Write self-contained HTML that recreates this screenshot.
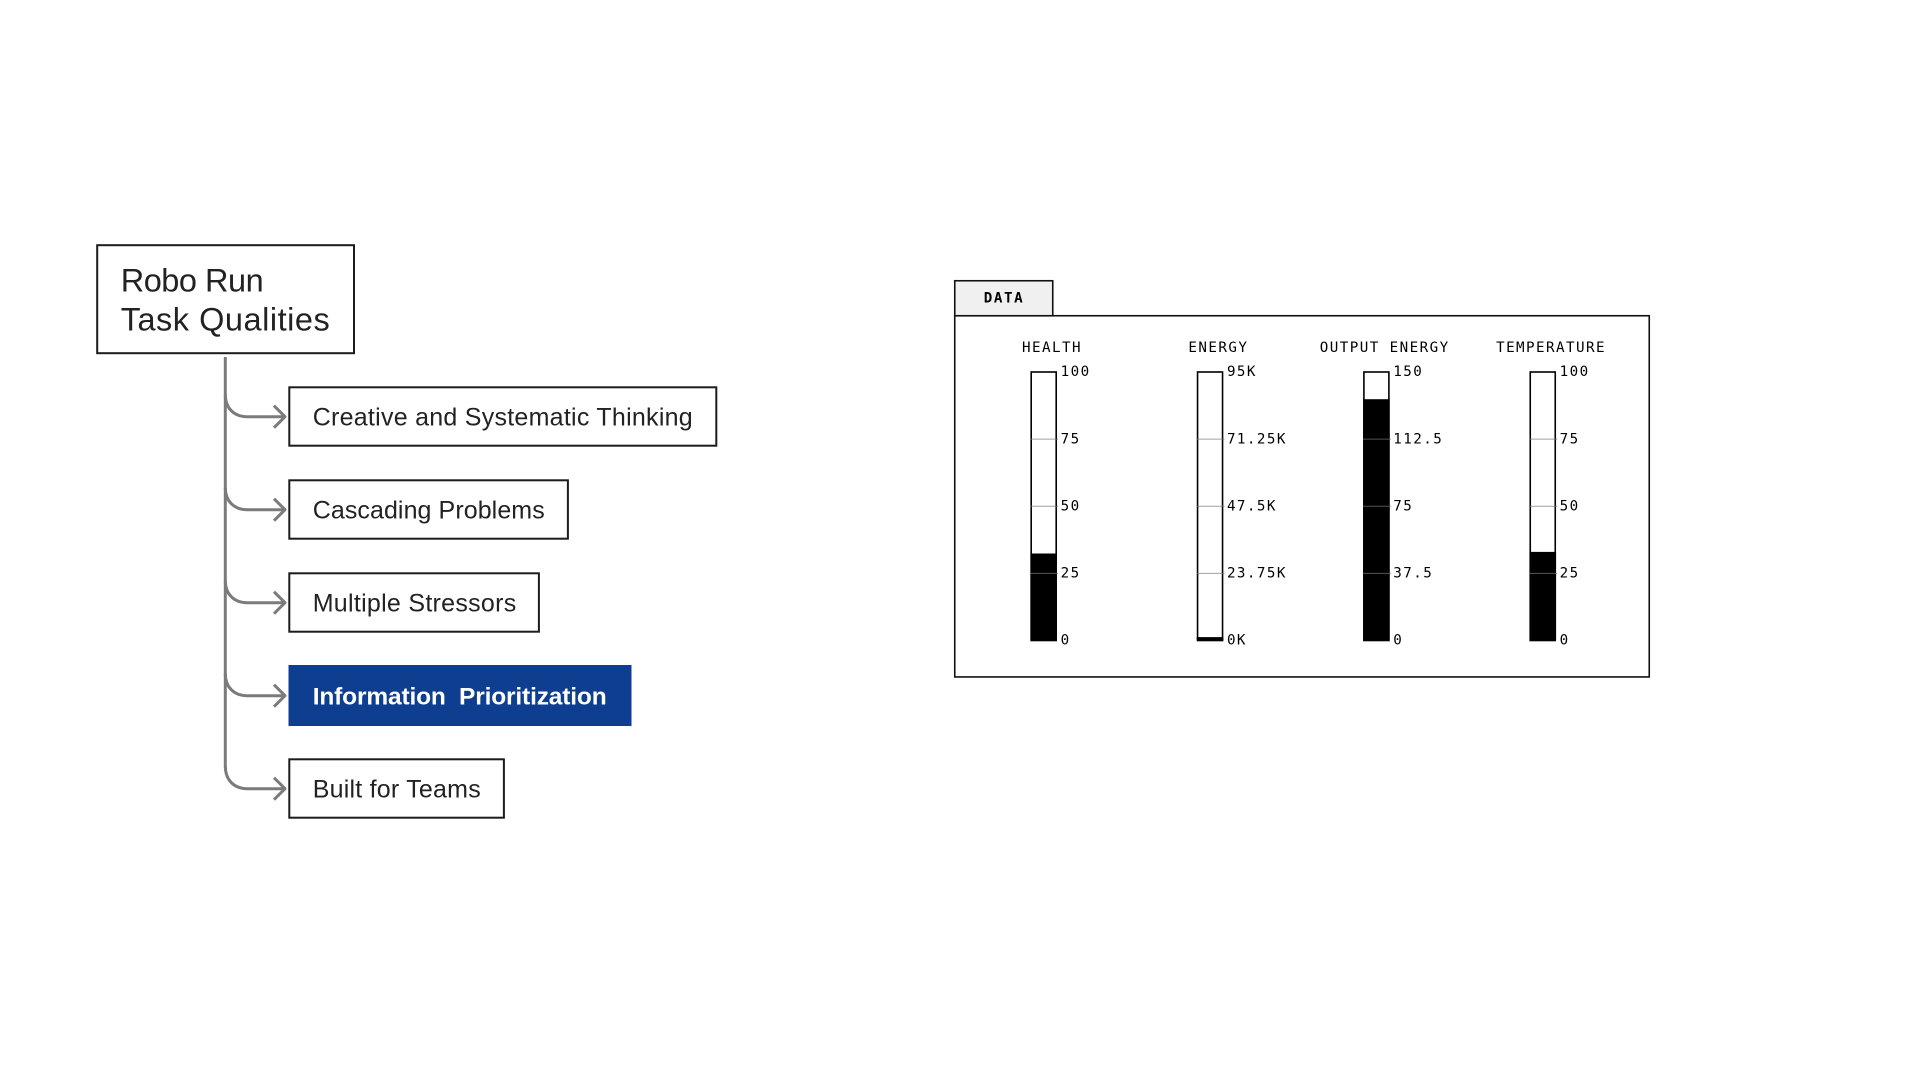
<!DOCTYPE html>
<html lang="en">
<head>
<meta charset="utf-8">
<title>Robo Run Task Qualities</title>
<style>
  html, body { margin: 0; padding: 0; background: #fff; width: 1920px; height: 1080px; overflow: hidden; }
  svg { display: block; }
  .node-text { font-family: "Liberation Sans", sans-serif; font-size: 25px; fill: #222; white-space: pre; }
  .title-text { font-family: "Liberation Sans", sans-serif; font-size: 32.5px; fill: #222; }
  .mono { font-family: "DejaVu Sans Mono", "Liberation Mono", monospace; font-size: 14.2px; fill: #000; white-space: pre; }
  .box { fill: #fff; stroke: #1c1c1c; stroke-width: 2; }
  .conn { fill: none; stroke: #7b7b7b; stroke-width: 3; stroke-linejoin: round; }
</style>
</head>
<body>
<svg id="stage" width="1920" height="1080" viewBox="0 0 1920 1080" xmlns="http://www.w3.org/2000/svg">
  <rect width="1920" height="1080" fill="#fff"/>

  <g>
    <g>
      <rect class="box" x="97.2" y="245.2" width="256.8" height="108"/>
      <text class="title-text" x="120.7" y="291.5" textLength="143" lengthAdjust="spacing">Robo Run</text>
      <text class="title-text" x="120.7" y="330.5" textLength="209" lengthAdjust="spacing">Task Qualities</text>
    </g>

    <path class="conn" d="M225.3 357 V766"/>

    <g>
      <path class="conn" d="M225.3 394.7 C225.3 408 234 416.7 247 416.7 H285"/>
      <path class="conn" d="M274 405.7 L285 416.7 L274 427.7"/>
    </g>
    <g>
      <path class="conn" d="M225.3 487.7 C225.3 501 234 509.7 247 509.7 H285"/>
      <path class="conn" d="M274 498.7 L285 509.7 L274 520.7"/>
    </g>
    <g>
      <path class="conn" d="M225.3 580.7 C225.3 594 234 602.7 247 602.7 H285"/>
      <path class="conn" d="M274 591.7 L285 602.7 L274 613.7"/>
    </g>
    <g>
      <path class="conn" d="M225.3 673.7 C225.3 687 234 695.7 247 695.7 H285"/>
      <path class="conn" d="M274 684.7 L285 695.7 L274 706.7"/>
    </g>
    <g>
      <path class="conn" d="M225.3 766 C225.3 780 234 788.7 247 788.7 H285"/>
      <path class="conn" d="M274 777.7 L285 788.7 L274 799.7"/>
    </g>

    <g>
      <rect class="box" x="289.3" y="387.3" width="427" height="58.4"/>
      <text class="node-text" x="312.7" y="425.5" textLength="380" lengthAdjust="spacing">Creative and Systematic Thinking</text>
    </g>
    <g>
      <rect class="box" x="289.3" y="480.3" width="278.6" height="58.4"/>
      <text class="node-text" x="312.7" y="518.5" textLength="232" lengthAdjust="spacing">Cascading Problems</text>
    </g>
    <g>
      <rect class="box" x="289.3" y="573.3" width="249.6" height="58.4"/>
      <text class="node-text" x="312.7" y="611.5" textLength="203.5" lengthAdjust="spacing">Multiple Stressors</text>
    </g>
    <g>
      <rect x="288.5" y="665" width="343" height="61" fill="#0e3e90"/>
      <text class="node-text" x="312.7" y="704.5" textLength="294" lengthAdjust="spacing" style="fill:#fff;font-weight:bold;font-size:24.5px">Information  Prioritization</text>
    </g>
    <g>
      <rect class="box" x="289.3" y="759.3" width="214.6" height="58.4"/>
      <text class="node-text" x="312.7" y="797.3" textLength="168" lengthAdjust="spacing">Built for Teams</text>
    </g>
  </g>

  <g id="data-panel">
    <rect x="954.75" y="315.75" width="694.5" height="361.2" fill="#fff" stroke="#111" stroke-width="1.6"/>
    <g>
      <rect x="954.75" y="280.75" width="98" height="35" fill="#f0f0f0" stroke="#111" stroke-width="1.6"/>
      <text class="mono" x="983.7" y="302.5" style="font-weight:bold;letter-spacing:1.6px">DATA</text>
    </g>
  </g>
</svg>

<script>
// Gauge chart data
const gaugeNames = ["HEALTH", "ENERGY", "OUTPUT ENERGY", "TEMPERATURE"];
const gaugeValues = [32.4, 1.2, 134.8, 33];
const gaugeMaxes = [100, 95, 150, 100];
const gaugeTickLabels = [
  ["100", "75", "50", "25", "0"],
  ["95K", "71.25K", "47.5K", "23.75K", "0K"],
  ["150", "112.5", "75", "37.5", "0"],
  ["100", "75", "50", "25", "0"]
];

const SVG_NS = "http://www.w3.org/2000/svg";
const panel = document.getElementById("data-panel");
const PLOT_TOP = 372;
const PLOT_BOTTOM = 640.5;
const FIRST_CENTER = 1043.7;
const CENTER_STEP = 166.35;
const BAR_WIDTH = 25;

function make(tag, attrs, parent) {
  const el = document.createElementNS(SVG_NS, tag);
  Object.keys(attrs).forEach(function (k) { el.setAttribute(k, attrs[k]); });
  parent.appendChild(el);
  return el;
}
function yScale(value, max) {
  return PLOT_BOTTOM - (value / max) * (PLOT_BOTTOM - PLOT_TOP);
}

gaugeNames.forEach(function (name, g) {
  const slug = name.toLowerCase().replace(/\s+/g, "-");
  const max = gaugeMaxes[g];
  const cx = FIRST_CENTER + g * CENTER_STEP;
  const left = cx - BAR_WIDTH / 2;

  const group = make("g", {}, panel);
  
  

  const title = make("text", { "class": "mono", x: cx + 8.3, y: 352, "text-anchor": "middle" }, group);
  title.style.letterSpacing = "1.45px";
  title.textContent = name;
  
  

  const frame = make("rect", { x: left, y: PLOT_TOP, width: BAR_WIDTH, height: PLOT_BOTTOM - PLOT_TOP, fill: "#fff", stroke: "#000", "stroke-width": 1.6 }, group);
  
  

  const top = yScale(gaugeValues[g], max);
  const fill = make("rect", { x: left - 0.8, y: top, width: BAR_WIDTH + 1.6, height: PLOT_BOTTOM - top, fill: "#000" }, group);
  
  

  const labels = gaugeTickLabels[g];
  labels.forEach(function (label, i) {
    const fraction = 1 - i / (labels.length - 1);
    const y = yScale(fraction * max, max);
    if (i > 0 && i < labels.length - 1) {
      const tick = make("line", { x1: left - 1, x2: left + BAR_WIDTH + 2, y1: y, y2: y, stroke: "#777", "stroke-opacity": 0.7, "stroke-width": 1 }, group);
      
      
    }
    const text = make("text", { "class": "mono", x: left + BAR_WIDTH + 4.4, y: y + 4.2 }, group);
    text.style.letterSpacing = "1.45px";
    text.textContent = label;
    
    
  });
});
</script>
</body>
</html>
